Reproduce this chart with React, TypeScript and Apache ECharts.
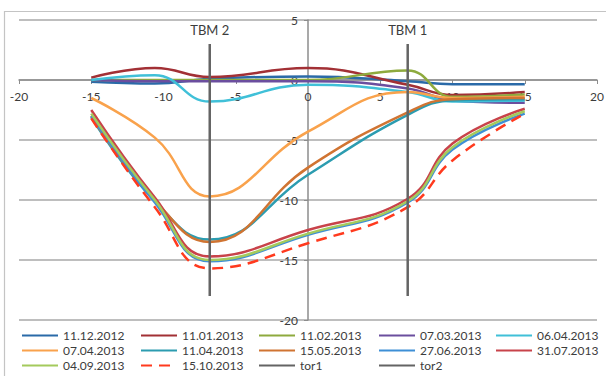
import React, { useEffect, useRef } from "react";
import * as echarts from "echarts";

// x positions of the measurement points
const xPoints = [-15, -10.6, -6.8, 0, 6.9, 10, 15];

// settlement values per survey date
const v11122012 = [-0.15, -0.3, 0.1, 0.3, -0.1, -0.35, -0.35];
const v11012013 = [0.2, 1.0, 0.25, 1.0, -0.4, -1.25, -1.0];
const v11022013 = [0, 0, 0, 0, 0.8, -1.4, -1.2];
const v07032013 = [0, -0.1, -0.1, -0.1, -0.7, -1.7, -1.9];
const v06042013 = [0, 0.4, -1.8, -0.4, -1.0, -1.8, -1.7];
const v07042013 = [-1.5, -4.8, -9.7, -4.3, -1.0, -1.5, -1.4];
const v11042013 = [-3.1, -10.1, -13.3, -7.9, -2.9, -1.7, -1.6];
const v15052013 = [-3.0, -10.0, -13.5, -7.3, -2.7, -1.6, -1.5];
const v27062013 = [-3.0, -10.2, -15.1, -12.9, -10.2, -5.8, -2.8];
const v31072013 = [-2.5, -9.8, -14.7, -12.5, -9.9, -5.3, -2.4];
const v04092013 = [-2.8, -10.0, -15.0, -12.8, -10.1, -5.6, -2.6];
const v15102013 = [-3.2, -10.6, -15.7, -13.6, -10.6, -6.7, -2.8];

// TBM position lines
const tor1X = 6.9;
const tor2X = -6.8;
const torTop = 3;
const torBottom = -18;
const tor1Label = "TBM 1";
const tor2Label = "TBM 2";

const seriesNames = [
  "11.12.2012", "11.01.2013", "11.02.2013", "07.03.2013", "06.04.2013",
  "07.04.2013", "11.04.2013", "15.05.2013", "27.06.2013", "31.07.2013",
  "04.09.2013", "15.10.2013",
];
const seriesValues = [
  v11122012, v11012013, v11022013, v07032013, v06042013,
  v07042013, v11042013, v15052013, v27062013, v31072013,
  v04092013, v15102013,
];
const seriesColors = [
  "#2A6AA8", "#A23035", "#8EAA3E", "#6B4E9E", "#40C0D8",
  "#F9A24C", "#2C9CB0", "#D07432", "#3E8FD6", "#C8434A",
  "#A4CA5C", "#FF3A1E",
];

const xTicks = { min: -20, max: 20, interval: 5 };
const yTicks = { min: -20, max: 5, interval: 5 };

const FONT = "Lato, 'Open Sans', sans-serif";
const TEXT = "#3c3c3c";

const GRID = { left: 19, top: 20, width: 578, height: 300 };

export default function App() {
  const ref = useRef<HTMLDivElement>(null);

  useEffect(() => {
    if (!ref.current) return;
    const chart = echarts.init(ref.current, undefined, { renderer: "svg" });

    const lineSeries: any[] = seriesNames.map((name, i) => ({
      name,
      type: "line",
      smooth: 0.45,
      symbol: "none",
      data: xPoints.map((x, k) => [x, seriesValues[i][k]]),
      lineStyle: {
        color: seriesColors[i],
        width: 2.5,
        type: name === "15.10.2013" ? [11, 7] : "solid",
      },
      itemStyle: { color: seriesColors[i] },
    }));

    const torSeries = (name: string, x: number, label: string) => ({
      name,
      type: "line",
      symbol: "circle",
      symbolSize: 0.01,
      showSymbol: true,
      smooth: false,
      lineStyle: { color: "#646464", width: 2.5 },
      itemStyle: { color: "#646464" },
      data: [
        {
          value: [x, torTop],
          label: {
            show: true,
            position: "top",
            distance: 7,
            formatter: label,
            fontSize: 13,
            color: TEXT,
            fontFamily: FONT,
          },
        },
        { value: [x, torBottom] },
      ],
    });

    const columns = [
      [seriesNames[0], seriesNames[5], seriesNames[10]],
      [seriesNames[1], seriesNames[6], seriesNames[11]],
      [seriesNames[2], seriesNames[7], "tor1"],
      [seriesNames[3], seriesNames[8], "tor2"],
      [seriesNames[4], seriesNames[9]],
    ];
    const colLeft = [21, 140, 258, 378, 495];

    // axis positions: x axis sits on y = 0, y axis on x = 0
    const xAxisOffset = -GRID.height * (0 - yTicks.min) / (yTicks.max - yTicks.min);
    const yAxisOffset = -GRID.width * (0 - xTicks.min) / (xTicks.max - xTicks.min);

    const option: any = {
      animation: false,
      grid: { ...GRID, outerBoundsMode: "none", containLabel: false },
      graphic: [
        {
          type: "rect",
          shape: { x: 4.5, y: 11.5, width: 700, height: 400 },
          style: { fill: "none", stroke: "#C4C4C4", lineWidth: 1.2 },
          silent: true,
        },
      ],
      legend: columns.map((data, i) => ({
        orient: "vertical",
        left: colLeft[i],
        top: 328,
        itemWidth: 36,
        itemHeight: 8,
        itemGap: 0,
        padding: 0,
        data,
        itemStyle: { opacity: 0 },
        textStyle: {
          fontSize: 12,
          color: TEXT,
          fontFamily: FONT,
          lineHeight: 15,
        },
      })),
      xAxis: {
        type: "value",
        position: "bottom",
        offset: xAxisOffset,
        min: xTicks.min,
        max: xTicks.max,
        interval: xTicks.interval,
        axisLine: { onZero: false, lineStyle: { color: "#8C8C8C", width: 1.5 } },
        axisTick: { show: true, length: 4, lineStyle: { color: "#8C8C8C" } },
        axisLabel: { fontSize: 12, color: TEXT, fontFamily: FONT, margin: 10 },
        splitLine: { show: false },
      },
      yAxis: {
        type: "value",
        position: "left",
        offset: yAxisOffset,
        min: yTicks.min,
        max: yTicks.max,
        interval: yTicks.interval,
        axisLine: { show: true, onZero: false, lineStyle: { color: "#8C8C8C", width: 1.5 } },
        axisTick: { show: true, length: 4, lineStyle: { color: "#8C8C8C" } },
        axisLabel: { fontSize: 12, color: TEXT, fontFamily: FONT, margin: 10 },
        splitLine: { show: true, lineStyle: { color: "#A8A8A8", width: 1.5 } },
      },
      series: [
        ...lineSeries,
        torSeries("tor1", tor1X, tor1Label),
        torSeries("tor2", tor2X, tor2Label),
      ],
    };

    chart.setOption(option);
    return () => chart.dispose();
  }, []);

  return (
    <div
      ref={ref}
      style={{ position: "fixed", left: 0, top: 0, width: 606, height: 376, background: "#fff" }}
    />
  );
}
